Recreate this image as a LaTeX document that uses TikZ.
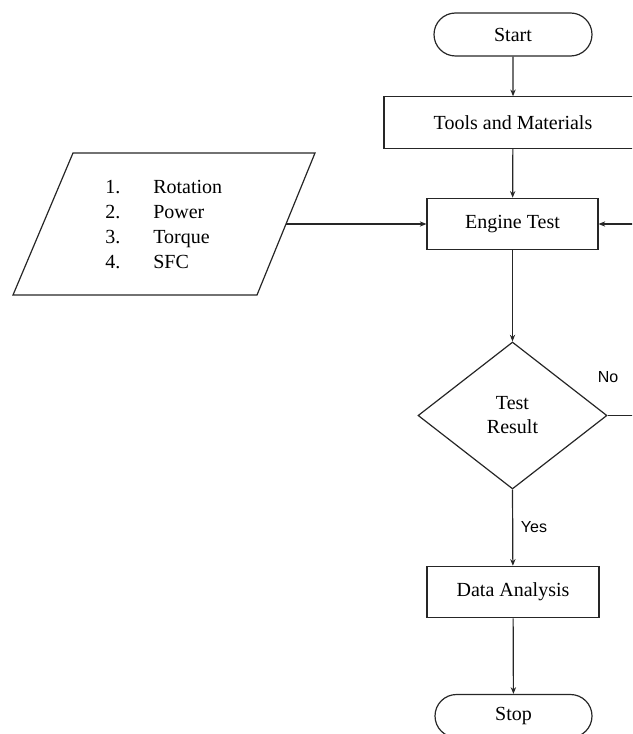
\documentclass[tikz,border=0pt]{standalone}
\usepackage{fontspec}
\setmainfont{Liberation Serif}
\newfontfamily\labelfont{Liberation Sans}
\usetikzlibrary{shapes.misc,shapes.geometric,arrows.meta}
\begin{document}
\begin{tikzpicture}[x=0.75pt,y=-0.75pt,
  every node/.style={font=\fontsize{15}{18}\selectfont},
  line/.style={draw=black!85, line width=0.9pt},
  term/.style={line, rounded rectangle, minimum width=118.5pt, minimum height=32.25pt, inner sep=0pt},
  procbox/.style={line, rectangle, minimum height=38.5pt, inner sep=0pt},
  decis/.style={line, diamond, minimum width=141.75pt, minimum height=110.25pt, inner sep=0pt, align=center},
  arr/.style={line, -{Stealth[length=5pt,width=4pt]}},
  lbl/.style={font=\labelfont\fontsize{12}{14}\selectfont}]
\clip (0,0) rectangle (632,734);
\useasboundingbox (0,0) rectangle (632,734);

\node[term] (start) at (513,34.5) {Start};
\node[procbox, minimum width=193.5pt] (tools) at (513,122.5) {Tools and Materials};
\node[procbox, minimum width=128.25pt] (engine) at (512.5,224) {Engine Test};
\node[decis] (dec) at (512.5,415.5) {Test\\Result};
\node[procbox, minimum width=129pt] (data) at (513,592) {Data Analysis};
\node[term, minimum width=117.75pt] (stop) at (513.5,716) {Stop};

% input parallelogram
\draw[line] (73,153) -- (315,153) -- (257,295) -- (13,295) -- cycle;
\coordinate (inR) at (286,224);
\node[anchor=base west, align=left, inner sep=0pt, font=\fontsize{15}{18.75}\selectfont] (inputs) at (105,268)
  {\makebox[36pt][l]{1.}Rotation\\\makebox[36pt][l]{2.}Power\\\makebox[36pt][l]{3.}Torque\\\makebox[36pt][l]{4.}SFC};

\draw[arr] (start) -- (tools);
\draw[arr] (tools) -- (engine);
\draw[arr] (inR) -- (engine.west);
\draw[arr] (engine) -- (dec.north);
\draw[arr] (dec.south) -- (data);
\draw[arr] (data) -- (stop);
\draw[arr] (dec.east) -- ++(40,0) |- (engine.east);

\node[lbl] (no) at (608,377) {No};
\node[lbl] (yes) at (534,527) {Yes};
\end{tikzpicture}
\end{document}
